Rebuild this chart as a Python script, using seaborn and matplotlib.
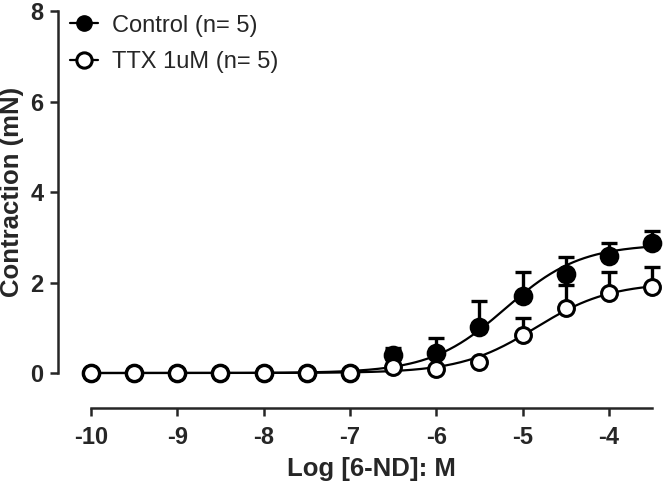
import numpy as np
import pandas as pd
import matplotlib
matplotlib.use("Agg")
import matplotlib.pyplot as plt
import seaborn as sns
from matplotlib.lines import Line2D

# Dados
log_dose = [-10, -9.5, -9, -8.5, -8, -7.5, -7, -6.5, -6, -5.5, -5, -4.5, -4, -3.5]
control_mean = [0, 0, 0, 0, 0, 0, 0, 0.40, 0.44, 1.02, 1.70, 2.19, 2.59, 2.87]
control_sem = [0, 0, 0, 0, 0, 0, 0, 0.15, 0.33, 0.57, 0.53, 0.37, 0.28, 0.27]
ttx_mean = [0, 0, 0, 0, 0, 0, 0, 0.13, 0.09, 0.24, 0.84, 1.44, 1.77, 1.90]
ttx_sem = [0, 0, 0, 0, 0, 0, 0, 0.0, 0.0, 0.0, 0.38, 0.50, 0.46, 0.44]

# Parametros da curva ajustada (top, logEC50, hill)
control_fit = (2.85, -5.2, 1.0)
ttx_fit = (2.0, -4.85, 1.0)

sns.set_style("ticks")
plt.rcParams['font.family'] = ['Liberation Sans', 'DejaVu Sans']
plt.rcParams['axes.unicode_minus'] = False

fig = plt.figure(figsize=(6.64, 4.86), dpi=100)
ax = fig.add_axes([0.137, 0.2325, 0.845, 0.7445])

x_fit = np.linspace(-10, -3.5, 300)
def curva(p):
    top, ec50, hill = p
    return top / (1 + 10 ** ((ec50 - x_fit) * hill))

df_fit = pd.DataFrame({"x": np.concatenate([x_fit, x_fit]),
                       "y": np.concatenate([curva(control_fit), curva(ttx_fit)]),
                       "grupo": ["Control"] * len(x_fit) + ["TTX"] * len(x_fit)})
sns.lineplot(data=df_fit, x="x", y="y", hue="grupo", palette=["black", "black"],
             lw=1.6, legend=False, ax=ax, zorder=2)

# Barras de erro (apenas superior)
ax.errorbar(log_dose, control_mean, yerr=[np.zeros(len(control_sem)), control_sem],
            fmt="none", ecolor="black", elinewidth=2.4, capsize=6, capthick=2.4, zorder=3)
ax.errorbar(log_dose, ttx_mean, yerr=[np.zeros(len(ttx_sem)), ttx_sem],
            fmt="none", ecolor="black", elinewidth=2.4, capsize=6, capthick=2.4, zorder=3)

sns.scatterplot(x=log_dose, y=control_mean, color="black", s=160, edgecolor="black",
                linewidth=1.5, ax=ax, zorder=4)
sns.scatterplot(x=log_dose, y=ttx_mean, color="white", s=130, edgecolor="black",
                linewidth=2.2, ax=ax, zorder=5)

ax.set_xlim(-10, -3.5)
ax.set_ylim(0, 8)

sns.despine(ax=ax, offset={"left": 24, "bottom": 25})
for s in ["left", "bottom"]:
    ax.spines[s].set_linewidth(1.8)
    ax.spines[s].set_clip_on(False)
for art in ax.collections + ax.lines:
    art.set_clip_on(False)

ax.set_xticks([-10, -9, -8, -7, -6, -5, -4])
ax.set_yticks([0, 2, 4, 6, 8])
ax.set_xticklabels(["-10", "-9", "-8", "-7", "-6", "-5", "-4"], fontsize=17, fontweight="bold")
ax.set_yticklabels(["0", "2", "4", "6", "8"], fontsize=17, fontweight="bold")
ax.tick_params(axis="both", which="major", length=6, width=1.8)
ax.tick_params(axis="x", pad=7)
ax.tick_params(axis="y", pad=4)

ax.set_xlabel("Log [6-ND]: M", fontsize=18.5, fontweight="bold", labelpad=6)
ax.set_ylabel("Contraction (mN)", fontsize=18.5, fontweight="bold", labelpad=5)

handles = [Line2D([], [], color="black", marker="o", markersize=11, lw=1.6,
                  markerfacecolor="black"),
           Line2D([], [], color="black", marker="o", markersize=11, lw=1.6,
                  markerfacecolor="white", markeredgewidth=2.2)]
ax.legend(handles, ["Control (n= 5)", "TTX 1uM (n= 5)"], loc="upper left",
          bbox_to_anchor=(0.080, 1.004), bbox_transform=fig.transFigure,
          frameon=False, fontsize=17, handlelength=1.2, handletextpad=0.6,
          labelspacing=0.62, borderpad=0.2)

fig.savefig("out.png", dpi=100)
